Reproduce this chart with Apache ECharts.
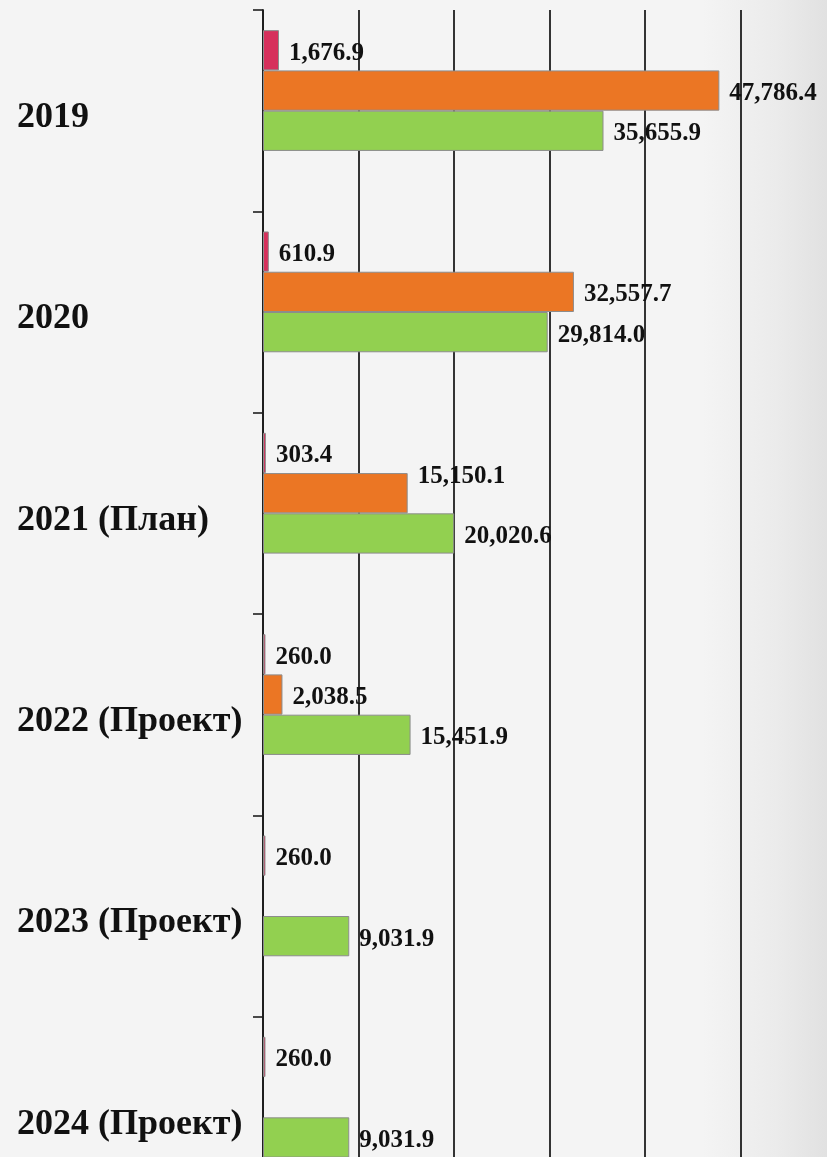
<!DOCTYPE html>
<html>
<head>
<meta charset="utf-8">
<script src="https://cdn.jsdelivr.net/npm/echarts@6/dist/echarts.min.js"></script>
<style>
  html, body { margin: 0; padding: 0; }
  body {
    width: 827px; height: 1157px; overflow: hidden; position: relative;
    background: linear-gradient(to right, #f4f4f4 0%, #f4f4f4 85%, #ebebeb 94%, #e1e1e1 100%);
  }
  #chart { position: absolute; left: 0; top: 0; width: 900px; height: 1300px; }
</style>
</head>
<body>
<div id="chart"></div>
<script>
const categories = ['2019', '2020', '2021 (План)', '2022 (Проект)', '2023 (Проект)', '2024 (Проект)'];
const seriesRed = [1676.9, 610.9, 303.4, 260.0, 260.0, 260.0];
const seriesOrange = [47786.4, 32557.7, 15150.1, 2038.5, null, null];
const seriesGreen = [35655.9, 29814.0, 20020.6, 15451.9, 9031.9, 9031.9];
const seriesEmpty = [null, null, null, null, null, null];
const xTicks = [0, 10000, 20000, 30000, 40000, 50000, 60000];

const fmt = v => Number(v).toLocaleString('en-US', { minimumFractionDigits: 1, maximumFractionDigits: 1 });
const serif = '"Liberation Serif", "Times New Roman", serif';
const labelFont = { fontFamily: serif, fontWeight: 'bold', fontSize: 25, color: '#111' };

function barSeries(name, data, color, labelOffsets) {
  return {
    name: name,
    type: 'bar',
    data: data.map((v, i) => {
      const item = { value: v };
      if (labelOffsets && labelOffsets[i]) item.label = { offset: labelOffsets[i] };
      return item;
    }),
    barGap: '0%',
    barCategoryGap: '20%',
    itemStyle: { color: color, borderColor: '#8c8c8c', borderWidth: 1 },
    label: Object.assign({
      show: true, position: 'right', distance: 10, offset: [0, 3],
      formatter: p => (p.value == null ? '' : fmt(p.value))
    }, labelFont),
    emphasis: { disabled: true },
    silent: true
  };
}

const chart = echarts.init(document.getElementById('chart'));
chart.setOption({
  backgroundColor: 'transparent',
  animation: false,
  grid: { left: 263, top: 10, width: 573, height: 1208, containLabel: false },
  xAxis: {
    type: 'value',
    min: xTicks[0], max: xTicks[xTicks.length - 1], interval: xTicks[1] - xTicks[0],
    axisLine: { show: false },
    axisTick: { show: false },
    axisLabel: { show: false },
    splitLine: { show: true, lineStyle: { color: '#1e1e1e', width: 1.8 } }
  },
  yAxis: {
    type: 'category',
    inverse: true,
    data: categories,
    axisLine: { show: true, lineStyle: { color: '#1e1e1e', width: 1.8 } },
    axisTick: { show: true, length: 10, lineStyle: { color: '#1e1e1e', width: 1.6 } },
    axisLabel: {
      align: 'left', margin: 246,
      formatter: v => '{c|' + v + '}',
      rich: {
        c: { fontFamily: serif, fontWeight: 'bold', fontSize: 36, color: '#111', padding: [14, 0, 0, 0] }
      }
    }
  },
  series: [
    barSeries('A', seriesRed, '#d6305c'),
    barSeries('B', seriesOrange, '#eb7624', [null, null, [0, -17], null, null, null]),
    barSeries('C', seriesGreen, '#92d050'),
    barSeries('D', seriesEmpty, '#4f81bd')
  ]
});
</script>
</body>
</html>
